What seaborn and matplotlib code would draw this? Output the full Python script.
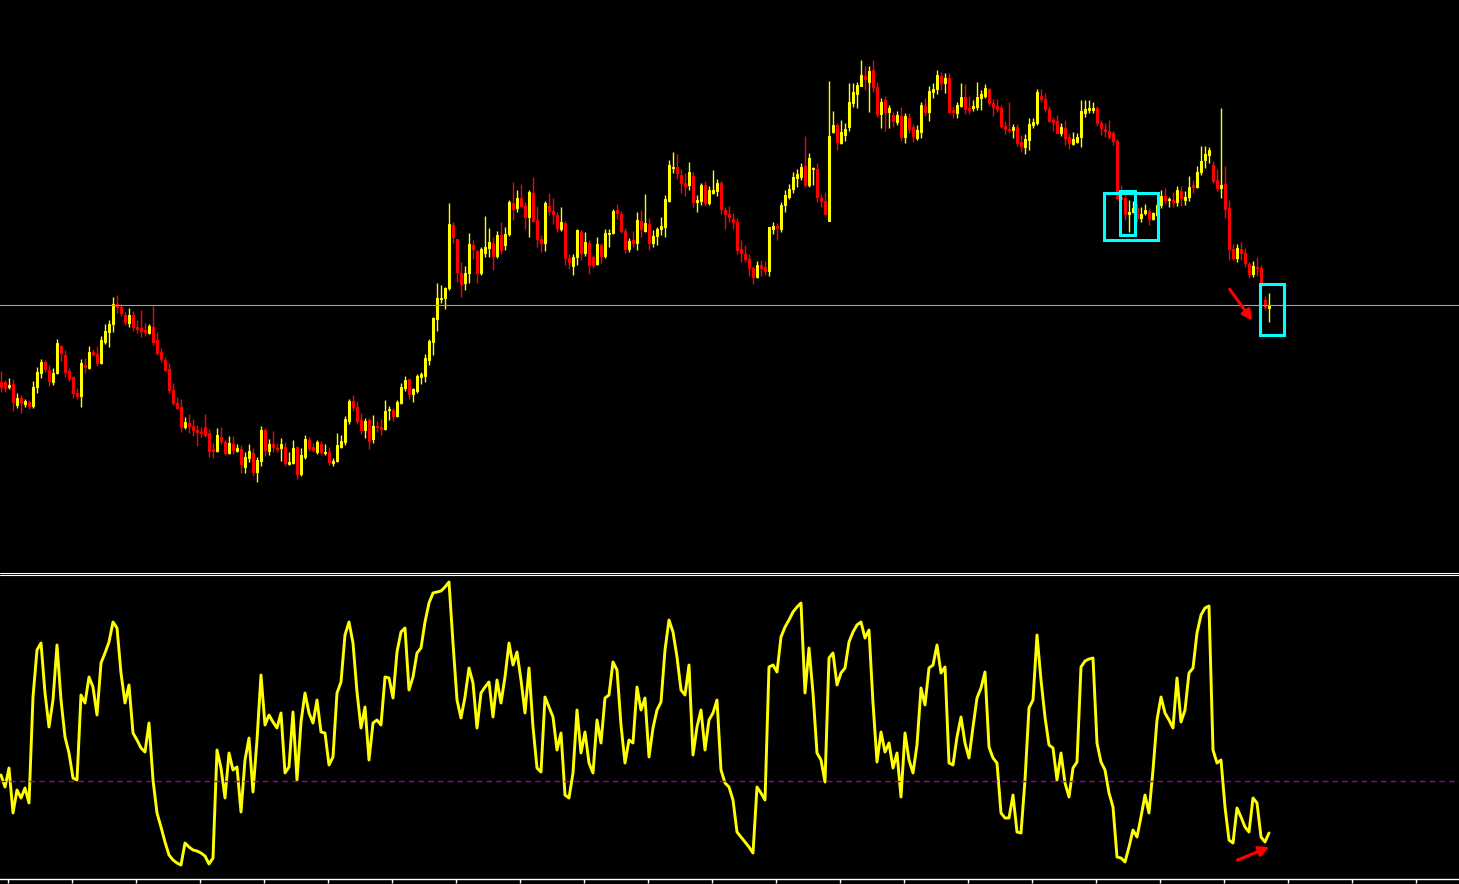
import numpy as np
import pandas as pd
import matplotlib
matplotlib.use('Agg')
import matplotlib.pyplot as plt
import seaborn as sns
from matplotlib.patches import Rectangle
from matplotlib.lines import Line2D

# candle data (price in chart points)
opens = [
    218, 218, 213, 216, 195, 202, 196, 198, 194, 213,
    227, 238, 230, 218, 227, 254, 245, 229, 223, 207,
    204, 235, 232, 248, 246, 237, 258, 268, 276, 296,
    293, 285, 277, 285, 273, 272, 270, 267, 273, 260,
    248, 240, 231, 210, 197, 193, 173, 177, 174, 170,
    168, 173, 167, 151, 149, 163, 158, 147, 156, 149,
    151, 133, 142, 147, 128, 139, 170, 149, 156, 152,
    152, 153, 136, 137, 153, 126, 143, 160, 153, 148,
    156, 147, 148, 137, 139, 153, 158, 179, 199, 193,
    180, 170, 180, 161, 174, 173, 171, 190, 190, 184,
    197, 212, 221, 206, 209, 223, 224, 240, 258, 281,
    301, 302, 312, 375, 361, 327, 317, 327, 355, 349,
    327, 347, 352, 357, 344, 365, 355, 366, 397, 392,
    402, 394, 383, 407, 380, 361, 357, 394, 389, 385,
    371, 377, 342, 334, 343, 368, 347, 357, 343, 336,
    355, 344, 366, 367, 390, 386, 369, 351, 360, 357,
    379, 369, 376, 357, 364, 371, 373, 399, 432, 433,
    425, 417, 415, 424, 398, 399, 415, 397, 407, 409,
    417, 390, 386, 381, 378, 351, 346, 341, 332, 323,
    335, 333, 329, 371, 374, 371, 395, 403, 411, 422,
    423, 434, 415, 431, 431, 402, 399, 379, 468, 475,
    457, 465, 473, 497, 506, 514, 524, 518, 530, 513,
    486, 500, 488, 485, 478, 484, 463, 482, 473, 462,
    468, 494, 488, 508, 511, 524, 517, 522, 490, 487,
    494, 503, 492, 492, 493, 502, 504, 511, 497, 494,
    492, 474, 471, 470, 473, 458, 453, 460, 475, 477,
    504, 501, 491, 480, 479, 467, 472, 463, 456, 458,
    463, 487, 490, 490, 492, 477, 471, 469, 467, 459,
    403, 402, 386, 388, 392, 382, 387, 389, 381, 385,
    395, 404, 400, 400, 398, 409, 400, 403, 415, 413,
    428, 440, 445, 435, 420, 412, 416, 392, 351, 342,
    351, 347, 336, 326, 333, 332, 300, 292,
]
highs = [
    229, 220, 222, 221, 207, 205, 201, 200, 219, 233,
    241, 240, 235, 232, 261, 255, 250, 232, 224, 212,
    241, 242, 254, 251, 254, 264, 276, 280, 303, 305,
    296, 288, 292, 289, 280, 290, 277, 276, 294, 268,
    252, 243, 237, 217, 203, 201, 183, 186, 181, 175,
    173, 186, 171, 157, 172, 173, 160, 164, 164, 156,
    155, 148, 156, 152, 143, 174, 172, 161, 169, 157,
    162, 158, 148, 160, 154, 152, 165, 163, 157, 160,
    159, 156, 153, 142, 167, 165, 184, 201, 205, 199,
    187, 182, 182, 185, 179, 181, 200, 194, 192, 200,
    217, 224, 221, 212, 226, 228, 246, 261, 283, 317,
    315, 313, 397, 378, 361, 338, 334, 367, 360, 350,
    353, 384, 372, 363, 369, 378, 373, 400, 418, 410,
    416, 398, 410, 423, 394, 365, 399, 407, 402, 388,
    393, 379, 346, 346, 371, 370, 368, 360, 345, 363,
    357, 371, 371, 391, 396, 389, 372, 362, 369, 388,
    390, 406, 382, 370, 373, 383, 405, 440, 448, 446,
    431, 427, 438, 428, 405, 417, 419, 414, 430, 421,
    419, 393, 394, 387, 382, 360, 355, 346, 334, 339,
    340, 339, 373, 378, 377, 398, 410, 416, 428, 431,
    437, 464, 447, 433, 437, 406, 408, 519, 489, 477,
    480, 477, 517, 517, 518, 540, 534, 534, 540, 518,
    502, 504, 495, 488, 489, 493, 487, 487, 476, 475,
    498, 502, 514, 517, 530, 528, 527, 527, 494, 498,
    517, 516, 504, 500, 518, 510, 516, 512, 501, 501,
    495, 479, 498, 476, 476, 465, 466, 482, 482, 511,
    511, 507, 494, 483, 485, 477, 480, 467, 468, 467,
    500, 500, 500, 498, 494, 480, 477, 480, 469, 461,
    415, 405, 400, 399, 396, 393, 396, 392, 388, 396,
    410, 412, 403, 408, 414, 414, 409, 424, 420, 434,
    454, 454, 453, 439, 431, 492, 434, 400, 356, 356,
    358, 352, 338, 339, 343, 335, 304, 307,
]
lows = [
    208, 208, 211, 189, 192, 187, 193, 191, 192, 207,
    222, 228, 214, 215, 226, 239, 223, 219, 202, 201,
    193, 227, 231, 244, 234, 236, 256, 253, 268, 287,
    284, 275, 273, 269, 267, 263, 264, 266, 255, 245,
    238, 229, 207, 195, 191, 168, 171, 167, 164, 154,
    163, 163, 143, 142, 148, 156, 145, 146, 146, 148,
    127, 127, 138, 124, 118, 134, 144, 145, 148, 148,
    139, 134, 135, 136, 121, 124, 141, 149, 148, 146,
    145, 145, 135, 134, 138, 152, 155, 176, 189, 176,
    166, 162, 151, 157, 168, 165, 170, 180, 179, 183,
    196, 209, 201, 198, 207, 216, 218, 235, 245, 269,
    297, 291, 310, 357, 318, 303, 310, 317, 341, 317,
    325, 343, 343, 330, 342, 346, 350, 364, 380, 388,
    393, 371, 363, 378, 353, 348, 349, 385, 376, 368,
    369, 335, 331, 325, 335, 340, 344, 326, 332, 335,
    337, 342, 353, 366, 381, 367, 347, 348, 353, 350,
    363, 368, 350, 353, 355, 365, 363, 398, 427, 421,
    407, 404, 410, 393, 388, 395, 394, 395, 406, 404,
    386, 371, 378, 371, 346, 338, 338, 324, 316, 322,
    324, 325, 324, 366, 360, 368, 388, 401, 407, 413,
    420, 413, 413, 415, 398, 393, 385, 379, 467, 450,
    456, 459, 469, 493, 492, 514, 510, 488, 508, 483,
    472, 469, 472, 473, 475, 459, 457, 467, 458, 460,
    462, 484, 479, 502, 506, 510, 507, 487, 482, 482,
    493, 486, 486, 489, 490, 490, 502, 494, 484, 488,
    472, 466, 467, 462, 454, 448, 446, 450, 472, 475,
    498, 488, 478, 469, 466, 464, 455, 451, 455, 457,
    453, 483, 487, 487, 474, 465, 463, 461, 455, 400,
    400, 380, 368, 387, 378, 378, 385, 375, 380, 384,
    392, 396, 393, 393, 394, 394, 395, 399, 407, 412,
    425, 432, 437, 417, 409, 402, 382, 340, 340, 338,
    340, 333, 322, 323, 324, 315, 290, 278,
]
closes = [
    213, 212, 215, 198, 202, 197, 199, 194, 213, 228,
    238, 231, 219, 227, 257, 247, 228, 222, 207, 204,
    237, 233, 248, 246, 237, 260, 269, 276, 296, 293,
    287, 278, 285, 273, 271, 269, 268, 274, 258, 247,
    241, 230, 210, 197, 192, 173, 178, 174, 170, 168,
    167, 165, 149, 149, 165, 159, 147, 157, 150, 152,
    136, 143, 149, 128, 140, 170, 150, 156, 153, 151,
    156, 137, 138, 152, 126, 145, 161, 152, 150, 158,
    148, 148, 138, 139, 155, 159, 181, 199, 193, 179,
    170, 179, 159, 174, 173, 171, 189, 190, 184, 198,
    213, 220, 206, 211, 224, 226, 242, 259, 282, 302,
    302, 312, 376, 363, 328, 316, 327, 356, 351, 327,
    351, 353, 358, 344, 365, 350, 366, 398, 391, 402,
    394, 383, 408, 379, 361, 357, 397, 389, 386, 372,
    378, 342, 338, 343, 370, 347, 358, 335, 335, 356,
    344, 367, 367, 389, 387, 369, 351, 359, 357, 380,
    371, 377, 357, 364, 371, 374, 401, 435, 433, 427,
    417, 414, 428, 398, 400, 415, 397, 410, 410, 417,
    391, 386, 383, 378, 350, 347, 341, 332, 323, 335,
    332, 329, 373, 374, 372, 395, 405, 411, 423, 426,
    433, 415, 442, 432, 403, 399, 386, 464, 475, 458,
    468, 471, 498, 508, 515, 525, 521, 529, 513, 486,
    498, 488, 492, 479, 485, 463, 484, 471, 464, 470,
    495, 488, 509, 511, 525, 517, 522, 488, 488, 495,
    503, 491, 490, 494, 503, 506, 512, 497, 493, 491,
    474, 471, 470, 473, 457, 454, 461, 476, 478, 508,
    501, 491, 479, 478, 467, 473, 462, 457, 461, 463,
    489, 491, 492, 492, 477, 472, 469, 463, 459, 402,
    401, 386, 388, 392, 382, 386, 390, 381, 387, 395,
    404, 400, 401, 398, 410, 402, 403, 413, 413, 428,
    439, 446, 450, 419, 412, 415, 391, 351, 342, 352,
    347, 337, 326, 334, 332, 317, 293, 295,
]

# oscillator in the lower window
osc = [
    105, 93, 112, 67, 90, 82, 92, 77, 183, 230,
    237, 187, 153, 180, 235, 180, 143, 127, 102, 100,
    185, 177, 203, 193, 165, 217, 227, 238, 258, 252,
    207, 177, 195, 147, 140, 132, 128, 157, 100, 67,
    53, 38, 25, 20, 17, 15, 37, 33, 30, 29,
    27, 24, 16, 22, 130, 112, 82, 127, 110, 113,
    68, 120, 142, 88, 140, 205, 155, 165, 158, 152,
    167, 107, 113, 168, 100, 158, 187, 167, 157, 180,
    148, 147, 115, 123, 187, 198, 245, 258, 237, 188,
    152, 173, 120, 157, 160, 155, 203, 202, 182, 228,
    248, 252, 190, 203, 227, 232, 258, 277, 287, 288,
    289, 293, 298, 237, 180, 162, 183, 212, 197, 152,
    187, 193, 198, 163, 200, 177, 203, 237, 215, 228,
    200, 167, 212, 153, 112, 108, 183, 173, 163, 130,
    147, 85, 82, 107, 170, 127, 148, 117, 107, 160,
    137, 182, 185, 218, 210, 155, 117, 140, 137, 193,
    170, 182, 123, 152, 170, 178, 230, 260, 248, 223,
    190, 185, 215, 125, 153, 170, 130, 160, 167, 180,
    110, 97, 93, 80, 48, 43, 38, 33, 27, 93,
    87, 80, 213, 215, 208, 243, 253, 260, 268, 273,
    277, 187, 232, 187, 127, 120, 98, 222, 227, 195,
    207, 212, 238, 248, 255, 258, 242, 250, 177, 118,
    148, 128, 137, 112, 127, 83, 147, 120, 107, 135,
    192, 175, 212, 215, 235, 207, 213, 117, 115, 143,
    163, 137, 122, 153, 182, 192, 208, 133, 122, 117,
    67, 62, 62, 85, 48, 47, 100, 172, 180, 245,
    200, 163, 135, 132, 100, 127, 97, 83, 112, 118,
    213, 219, 221, 222, 137, 118, 110, 87, 73, 23,
    22, 18, 33, 50, 43, 63, 85, 67, 110, 160,
    183, 167, 160, 152, 202, 158, 170, 207, 212, 247,
    265, 272, 274, 130, 117, 120, 73, 40, 37, 72,
    63, 53, 48, 82, 77, 43, 38, 47,
]

bid_price = 295
osc_level = 99

# marked areas: bar range and price range
box_from = [275.75, 279.75, 314.75]
box_to = [289.25, 283.5, 320.75]
box_low = [360, 365, 265]
box_high = [407, 409, 316]

W, H = 1459, 884

sns.set_style('dark', {'axes.facecolor': 'black', 'figure.facecolor': 'black'})

df = pd.DataFrame({'open': opens, 'high': highs, 'low': lows, 'close': closes, 'osc': osc})
df['bar'] = np.arange(len(df))

fig = plt.figure(figsize=(W / 100, H / 100), dpi=100)
fig.patch.set_facecolor('black')

ax1 = fig.add_axes([0, 1 - 572 / H, 1, 572 / H])
ax2 = fig.add_axes([0, 5 / H, 1, 303 / H])

xlim = (-0.25, 364.5)

# candles: bright outline, duller fill
up = df['close'] >= df['open']
for mask, body, edge in [(up, '#dcb400', '#ffff00'), (~up, '#d24c66', '#ff0000')]:
    d = df[mask]
    ax1.vlines(d['bar'], d['low'], d['high'], color=edge, lw=1.0)
    ax1.bar(d['bar'], (d['close'] - d['open']).abs().clip(lower=1.5),
            bottom=np.minimum(d['open'], d['close']), width=0.72,
            color=body, edgecolor=edge, linewidth=0.75)

ax1.axhline(bid_price, color='#a0a0a0', lw=0.8)

for x0, x1, y0, y1 in zip(box_from, box_to, box_low, box_high):
    ax1.add_patch(Rectangle((x0, y0), x1 - x0, y1 - y0, fill=False,
                            edgecolor='#00ffff', lw=2.2, zorder=5))

ax1.annotate('', xy=(313.25, 277), xytext=(306.75, 313),
             arrowprops=dict(arrowstyle='-|>', color='#ff0000', lw=2.2, mutation_scale=15))

ax1.set_xlim(*xlim)
ax1.set_ylim(28, 600)
ax1.set_axis_off()

# oscillator window
sns.lineplot(x=df['bar'], y=df['osc'], ax=ax2, color='#ffff00', linewidth=2.1)
ax2.axhline(osc_level, color='#9a009a', lw=1.0, dashes=(4, 3))
ax2.annotate('', xy=(317.75, 34), xytext=(308.5, 19),
             arrowprops=dict(arrowstyle='-|>', color='#ff0000', lw=2.2, mutation_scale=15))
ax2.set_xlim(*xlim)
ax2.set_ylim(1, 304)
ax2.set_xlabel('')
ax2.set_ylabel('')
ax2.grid(False)
for s in ['top', 'left', 'right']:
    ax2.spines[s].set_visible(False)
ax2.spines['bottom'].set_color('white')
ax2.spines['bottom'].set_linewidth(1.0)
ax2.set_xticks(np.arange(1.75, 365, 16))
ax2.set_yticks([])
ax2.tick_params(axis='x', direction='out', length=3, width=1, color='white',
                labelbottom=False, bottom=True)

# double separator between windows
for yy in [572.5, 574.7]:
    fig.add_artist(Line2D([0, 1], [1 - yy / H, 1 - yy / H], color='white', lw=0.8))

fig.savefig('out.png', dpi=100, facecolor='black')
